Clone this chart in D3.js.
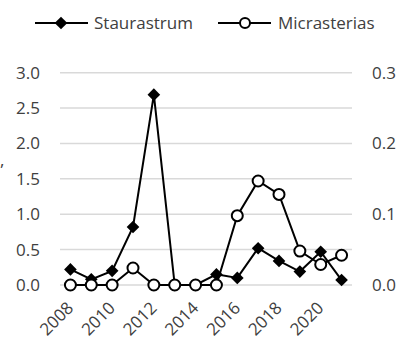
<!DOCTYPE html>
<html>
<head>
<meta charset="utf-8">
<script src="https://d3js.org/d3.v7.min.js"></script>
<style>
  body { margin: 0; background: #fff; }
  text { font-family: "Open Sans", "Noto Sans", sans-serif; fill: #404040; }
</style>
</head>
<body>
<script>
// chart data
var years = [2008, 2009, 2010, 2011, 2012, 2013, 2014, 2015, 2016, 2017, 2018, 2019, 2020, 2021];
var staurastrum = [0.22, 0.08, 0.2, 0.82, 2.69, 0, 0, 0.15, 0.1, 0.52, 0.34, 0.19, 0.47, 0.07];
var micrasterias = [0, 0, 0, 0.024, 0, 0, 0, 0, 0.098, 0.147, 0.128, 0.048, 0.029, 0.042];
var leftTicks = [0, 0.5, 1.0, 1.5, 2.0, 2.5, 3.0];
var rightTicks = [0, 0.1, 0.2, 0.3];
var yearLabels = [2008, 2010, 2012, 2014, 2016, 2018, 2020];

var width = 403, height = 344;
var plotLeft = 60, plotRight = 352, plotTop = 72.7, plotBottom = 285;
var fs = "17px";

var svg = d3.select("body").append("svg")
    .attr("width", width)
    .attr("height", height);

var x = d3.scaleBand().domain(years).range([plotLeft, plotRight]);
var yL = d3.scaleLinear().domain([0, 3]).range([plotBottom, plotTop]);
var yR = d3.scaleLinear().domain([0, 0.3]).range([plotBottom, plotTop]);

//gridlines
svg.selectAll("line.grid")
    .data(leftTicks)
    .enter()
    .append("line")
    .attr("x1", plotLeft).attr("x2", plotRight)
    .attr("y1", function (d) { return yL(d); })
    .attr("y2", function (d) { return yL(d); })
    .attr("stroke", "#d9d9d9")
    .attr("stroke-width", 1.5);

//left axis labels
svg.selectAll("text.yl")
    .data(leftTicks)
    .enter()
    .append("text")
    .attr("x", 40)
    .attr("y", function (d) { return yL(d) + 6; })
    .attr("text-anchor", "end")
    .style("font-size", fs)
    .text(function (d) { return d.toFixed(1); });

//right axis labels
svg.selectAll("text.yr")
    .data(rightTicks)
    .enter()
    .append("text")
    .attr("x", 372)
    .attr("y", function (d) { return yR(d) + 6; })
    .style("font-size", fs)
    .text(function (d) { return d.toFixed(1); });

//x labels, rotated
svg.selectAll("text.xl")
    .data(yearLabels)
    .enter()
    .append("text")
    .attr("transform", function (d) {
        return "translate(" + (x(d) + x.bandwidth() / 2 + 4) + "," + 309 + ") rotate(-45)";
    })
    .attr("text-anchor", "end")
    .style("font-size", fs)
    .text(function (d) { return d; });

// stray cropped axis title
svg.append("text").attr("x", 0).attr("y", 166).style("font-size", fs).text(",");

var cx = function (d, i) { return x(years[i]) + x.bandwidth() / 2; };

var lineL = d3.line().x(function (d, i) { return cx(d, i); }).y(function (d) { return yL(d); });
var lineR = d3.line().x(function (d, i) { return cx(d, i); }).y(function (d) { return yR(d); });

svg.append("path").attr("d", lineL(staurastrum))
    .attr("fill", "none").attr("stroke", "#000").attr("stroke-width", 2);
svg.append("path").attr("d", lineR(micrasterias))
    .attr("fill", "none").attr("stroke", "#000").attr("stroke-width", 2);

// square turned 45deg, like the excel diamond
var diamond = d3.symbol().type(d3.symbolSquare).size(80);

svg.selectAll("path.dia")
    .data(staurastrum)
    .enter()
    .append("path")
    .attr("d", diamond)
    .attr("transform", function (d, i) { return "translate(" + cx(d, i) + "," + yL(d) + ") rotate(45)"; })
    .attr("fill", "#000");

svg.selectAll("circle.mic")
    .data(micrasterias)
    .enter()
    .append("circle")
    .attr("cx", function (d, i) { return cx(d, i); })
    .attr("cy", function (d) { return yR(d); })
    .attr("r", 5.5)
    .attr("fill", "#fff")
    .attr("stroke", "#000")
    .attr("stroke-width", 2);

//legend
var lg = svg.append("g");
lg.append("line").attr("x1", 35).attr("x2", 88).attr("y1", 23).attr("y2", 23).attr("stroke", "#000").attr("stroke-width", 2);
lg.append("path").attr("d", diamond).attr("transform", "translate(61,23) rotate(45)").attr("fill", "#000");
lg.append("text").attr("x", 94).attr("y", 29).style("font-size", fs).text("Staurastrum");
lg.append("line").attr("x1", 218).attr("x2", 271).attr("y1", 23).attr("y2", 23).attr("stroke", "#000").attr("stroke-width", 2);
lg.append("circle").attr("cx", 245).attr("cy", 23).attr("r", 5).attr("fill", "#fff").attr("stroke", "#000").attr("stroke-width", 2);
lg.append("text").attr("x", 278).attr("y", 29).style("font-size", fs).text("Micrasterias");
</script>
</body>
</html>
